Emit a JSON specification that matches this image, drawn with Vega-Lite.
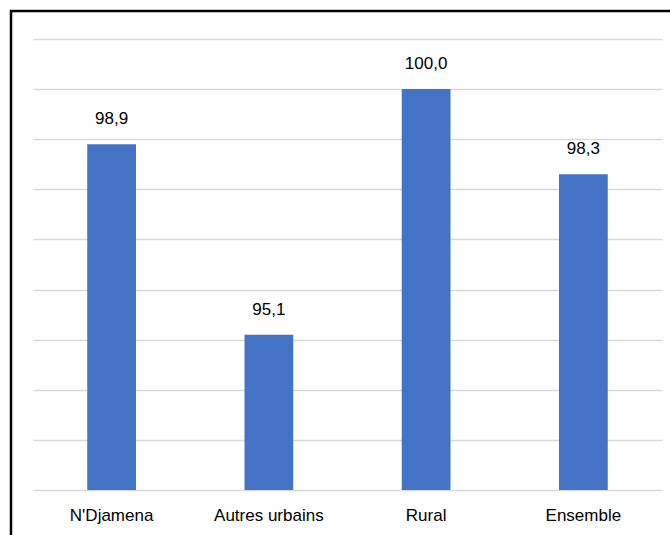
{
  "$schema": "https://vega.github.io/schema/vega-lite/v6.json",
  "autosize": "none",
  "padding": {"left": 11, "top": 11, "right": 0, "bottom": 0},
  "width": 680,
  "height": 560,
  "background": "white",
  "config": {
    "view": {"stroke": "black", "strokeWidth": 2.5, "fill": "white"},
    "font": "Liberation Sans"
  },
  "data": {
    "values": [
      {"zone": "N'Djamena", "value": 98.9, "label": "98,9"},
      {"zone": "Autres urbains", "value": 95.1, "label": "95,1"},
      {"zone": "Rural", "value": 100.0, "label": "100,0"},
      {"zone": "Ensemble", "value": 98.3, "label": "98,3"}
    ]
  },
  "encoding": {
    "x": {
      "field": "zone",
      "type": "nominal",
      "sort": null,
      "scale": {"range": [22, 651], "paddingInner": 0.69, "paddingOuter": 0.345},
      "axis": {
        "title": null,
        "domain": false,
        "ticks": false,
        "labelAngle": 0,
        "labelFontSize": 17,
        "labelColor": "#000000",
        "labelPadding": 17,
        "offset": -81
      }
    },
    "y": {
      "field": "value",
      "type": "quantitative",
      "scale": {"domain": [92, 101], "range": [479, 28], "nice": false, "zero": false},
      "axis": {
        "title": null,
        "domain": false,
        "ticks": false,
        "labels": false,
        "grid": true,
        "gridColor": "#d9d9d9",
        "gridWidth": 1.5,
        "values": [92, 93, 94, 95, 96, 97, 98, 99, 100, 101]
      }
    }
  },
  "layer": [
    {
      "mark": {"type": "bar", "color": "#4472C4"},
      "encoding": {"y2": {"datum": 92}}
    },
    {
      "mark": {"type": "text", "dy": -16, "fontSize": 17, "color": "#000000", "baseline": "bottom"},
      "encoding": {"text": {"field": "label"}}
    }
  ]
}
